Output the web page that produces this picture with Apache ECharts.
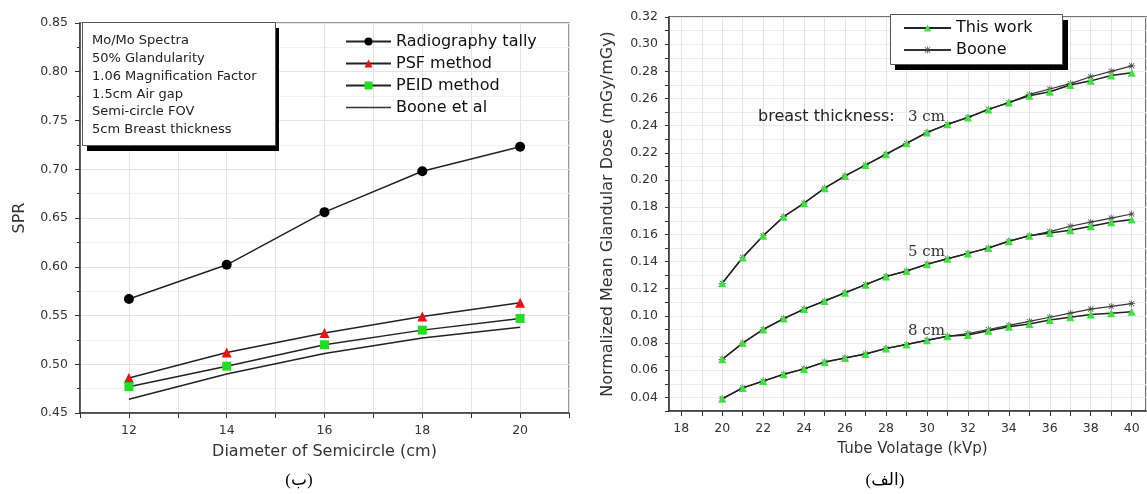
<!DOCTYPE html>
<html>
<head>
<meta charset="utf-8">
<script src="https://cdn.jsdelivr.net/npm/echarts@6/dist/echarts.min.js"></script>
<style>
html,body{margin:0;padding:0;background:#fff;}
#chart{width:1147px;height:494px;}
</style>
</head>
<body>
<div id="chart"></div>
<script>
// ---------- Left chart data ----------
const diameters = [12, 14, 16, 18, 20];
const radiographyTally = [0.567, 0.602, 0.656, 0.698, 0.723];
const psfMethod = [0.486, 0.512, 0.532, 0.549, 0.563];
const peidMethod = [0.477, 0.498, 0.520, 0.535, 0.547];
const booneEtAl = [0.464, 0.490, 0.511, 0.527, 0.538];
const infoLines = ['Mo/Mo Spectra', '50% Glandularity', '1.06 Magnification Factor', '1.5cm Air gap', 'Semi-circle FOV', '5cm Breast thickness'];

// ---------- Right chart data ----------
const kvp = [20, 21, 22, 23, 24, 25, 26, 27, 28, 29, 30, 31, 32, 33, 34, 35, 36, 37, 38, 39, 40];
const thisWork3 = [0.124, 0.143, 0.159, 0.173, 0.183, 0.194, 0.203, 0.211, 0.219, 0.227, 0.235, 0.241, 0.246, 0.252, 0.257, 0.262, 0.265, 0.270, 0.273, 0.277, 0.279];
const boone3    = [0.124, 0.143, 0.159, 0.173, 0.183, 0.194, 0.203, 0.211, 0.219, 0.227, 0.235, 0.241, 0.246, 0.252, 0.257, 0.263, 0.267, 0.271, 0.276, 0.280, 0.284];
const thisWork5 = [0.068, 0.080, 0.090, 0.098, 0.105, 0.111, 0.117, 0.123, 0.129, 0.133, 0.138, 0.142, 0.146, 0.150, 0.155, 0.159, 0.161, 0.163, 0.166, 0.169, 0.171];
const boone5    = [0.068, 0.080, 0.090, 0.098, 0.105, 0.111, 0.117, 0.123, 0.129, 0.133, 0.138, 0.142, 0.146, 0.150, 0.155, 0.159, 0.162, 0.166, 0.169, 0.172, 0.175];
const thisWork8 = [0.039, 0.047, 0.052, 0.057, 0.061, 0.066, 0.069, 0.072, 0.076, 0.079, 0.082, 0.085, 0.086, 0.089, 0.092, 0.094, 0.097, 0.099, 0.101, 0.102, 0.103];
const boone8    = [0.039, 0.047, 0.052, 0.057, 0.061, 0.066, 0.069, 0.072, 0.076, 0.079, 0.082, 0.085, 0.087, 0.090, 0.093, 0.096, 0.099, 0.102, 0.105, 0.107, 0.109];

const pairs = (xs, ys) => xs.map((x, i) => [x, ys[i]]);

const FONT = 'DejaVu Sans, Verdana, sans-serif';
const SERIF = 'DejaVu Serif, Liberation Serif, serif';
const CAPTION = 'Liberation Serif, DejaVu Sans, serif';
const GREEN = '#3fe03f';
const ASTERISK = 'path://M4.5 0L5.5 0L5.5 10L4.5 10ZM0 4.5L10 4.5L10 5.5L0 5.5ZM1 1.7L1.7 1L9 8.3L8.3 9ZM8.3 1L9 1.7L1.7 9L1 8.3Z';
const LINE_ICON = 'path://M0 0L60 0L60 2L0 2Z';

const axisLabelStyle = {color: '#333', fontSize: 12.5, fontFamily: FONT};
const nameStyle = {fontSize: 16, color: '#333', fontFamily: FONT};
const splitStyle = {show: true, lineStyle: {color: '#e4e4e4', width: 1}};
const minorSplitStyle = {show: true, lineStyle: {color: '#f0f0f0', width: 1}};
const axisLineStyle = {show: true, lineStyle: {color: '#333', width: 1.5}};

const chart = echarts.init(document.getElementById('chart'), null, {renderer: 'canvas'});

const option = {
  backgroundColor: '#fff',
  animation: false,
  grid: [
    {left: 80, top: 23, width: 489, height: 390, show: true, borderColor: '#777', borderWidth: 1.5, backgroundColor: 'transparent'},
    {left: 669, top: 17, width: 477, height: 394, show: true, borderColor: '#444', borderWidth: 1.5, backgroundColor: 'transparent'}
  ],
  xAxis: [
    {
      gridIndex: 0, type: 'value', min: 11, max: 21, interval: 1,
      name: 'Diameter of Semicircle (cm)', nameLocation: 'middle', nameGap: 31,
      nameTextStyle: nameStyle,
      axisLine: axisLineStyle,
      axisTick: {show: true, length: 5, lineStyle: {color: '#333'}},
      axisLabel: Object.assign({margin: 11, formatter: v => (v % 2 === 0 ? String(v) : '')}, axisLabelStyle),
      splitLine: splitStyle
    },
    {
      gridIndex: 1, type: 'value', min: 17.4, max: 40.7, minInterval: 1, maxInterval: 1,
      name: 'Tube Volatage (kVp)', nameLocation: 'middle', nameGap: 31,
      nameTextStyle: Object.assign({}, nameStyle, {fontSize: 15, padding: [0, 0, 0, 10]}),
      axisLine: axisLineStyle,
      axisTick: {show: true, length: 5, lineStyle: {color: '#333'}},
      axisLabel: Object.assign({margin: 11, showMinLabel: false, showMaxLabel: false,
        formatter: v => (Math.abs(v - Math.round(v)) < 1e-6 && Math.round(v) % 2 === 0 ? String(Math.round(v)) : '')}, axisLabelStyle),
      splitLine: splitStyle
    }
  ],
  yAxis: [
    {
      gridIndex: 0, type: 'value', min: 0.45, max: 0.85, interval: 0.05,
      name: 'SPR', nameLocation: 'middle', nameGap: 52,
      nameTextStyle: nameStyle,
      axisLine: axisLineStyle,
      axisTick: {show: true, length: 5, lineStyle: {color: '#333'}},
      minorTick: {show: true, splitNumber: 2, length: 3, lineStyle: {color: '#333'}},
      axisLabel: Object.assign({margin: 12, formatter: v => v.toFixed(2)}, axisLabelStyle),
      splitLine: splitStyle,
      minorSplitLine: minorSplitStyle
    },
    {
      gridIndex: 1, type: 'value', min: 0.03, max: 0.32, interval: 0.01,
      name: 'Normalized Mean Glandular Dose (mGy/mGy)', nameLocation: 'middle', nameGap: 53,
      nameTextStyle: nameStyle,
      axisLine: axisLineStyle,
      axisTick: {show: true, length: 4, lineStyle: {color: '#333'}},
      axisLabel: Object.assign({margin: 11,
        formatter: v => (Math.round(v * 100) % 2 === 0 ? v.toFixed(2) : '')}, axisLabelStyle),
      splitLine: {show: true, lineStyle: {color: '#ececec', width: 1}}
    }
  ],
  legend: [
    {
      data: ['Radiography tally', 'PSF method', 'PEID method', {name: 'Boone et al', icon: LINE_ICON}],
      orient: 'vertical', left: 340, top: 28.5, itemWidth: 45, itemHeight: 10, itemGap: 6,
      textStyle: {fontSize: 16, color: '#111', fontFamily: FONT}, z: 10
    },
    {
      data: ['This work', 'Boone'],
      orient: 'vertical', left: 898, top: 15, itemWidth: 47, itemHeight: 9, itemGap: 6,
      textStyle: {fontSize: 16, color: '#111', fontFamily: FONT}, z: 10
    }
  ],
  graphic: [
    {type: 'rect', z: 3, shape: {x: 87, y: 28, width: 192, height: 123}, style: {fill: '#000'}},
    {type: 'rect', z: 4, shape: {x: 82.5, y: 22.5, width: 193, height: 123}, style: {fill: '#fff', stroke: '#555', lineWidth: 1}},
    {type: 'text', z: 5, x: 92, y: 31.5, style: {text: infoLines.join('\n'), fill: '#222', font: '13px ' + FONT, lineHeight: 17.9, verticalAlign: 'top'}},
    {type: 'rect', z: 3, shape: {x: 895, y: 20, width: 173, height: 50}, style: {fill: '#000'}},
    {type: 'rect', z: 4, shape: {x: 890.5, y: 14.5, width: 172, height: 50}, style: {fill: '#fff', stroke: '#555', lineWidth: 1}},
    {type: 'text', z: 5, x: 758, y: 117, style: {text: 'breast thickness:', fill: '#222', font: '16px ' + FONT, verticalAlign: 'middle'}},
    {type: 'text', z: 5, x: 908, y: 117, style: {text: '3 cm', fill: '#333', font: '15px ' + SERIF, verticalAlign: 'middle'}},
    {type: 'text', z: 5, x: 908, y: 252, style: {text: '5 cm', fill: '#333', font: '15px ' + SERIF, verticalAlign: 'middle'}},
    {type: 'text', z: 5, x: 908, y: 331, style: {text: '8 cm', fill: '#333', font: '15px ' + SERIF, verticalAlign: 'middle'}},
    {type: 'text', z: 5, x: 299, y: 481, style: {text: '(ب)', fill: '#000', font: '17px ' + CAPTION, align: 'center', verticalAlign: 'middle'}},
    {type: 'text', z: 5, x: 885, y: 481, style: {text: '(الف)', fill: '#000', font: '17px ' + CAPTION, align: 'center', verticalAlign: 'middle'}}
  ],
  series: [
    {name: 'Radiography tally', type: 'line', xAxisIndex: 0, yAxisIndex: 0, data: pairs(diameters, radiographyTally),
      symbol: 'circle', symbolSize: 10, lineStyle: {color: '#222', width: 1.5}, itemStyle: {color: '#000'}, z: 3},
    {name: 'PSF method', type: 'line', xAxisIndex: 0, yAxisIndex: 0, data: pairs(diameters, psfMethod),
      symbol: 'triangle', symbolSize: 10, lineStyle: {color: '#222', width: 1.5}, itemStyle: {color: '#ee1111'}, z: 3},
    {name: 'PEID method', type: 'line', xAxisIndex: 0, yAxisIndex: 0, data: pairs(diameters, peidMethod),
      symbol: 'rect', symbolSize: 9, lineStyle: {color: '#222', width: 1.5}, itemStyle: {color: '#22dd22'}, z: 3},
    {name: 'Boone et al', type: 'line', xAxisIndex: 0, yAxisIndex: 0, data: pairs(diameters, booneEtAl),
      symbol: 'none', lineStyle: {color: '#222', width: 1.5}, itemStyle: {color: '#333'}, z: 3},

    {name: 'Boone', type: 'line', xAxisIndex: 1, yAxisIndex: 1, data: pairs(kvp, boone3),
      symbol: ASTERISK, symbolSize: 7, lineStyle: {color: '#333', width: 1.2}, itemStyle: {color: '#444'}, z: 3},
    {name: 'Boone', type: 'line', xAxisIndex: 1, yAxisIndex: 1, data: pairs(kvp, boone5),
      symbol: ASTERISK, symbolSize: 7, lineStyle: {color: '#333', width: 1.2}, itemStyle: {color: '#444'}, z: 3},
    {name: 'Boone', type: 'line', xAxisIndex: 1, yAxisIndex: 1, data: pairs(kvp, boone8),
      symbol: ASTERISK, symbolSize: 7, lineStyle: {color: '#333', width: 1.2}, itemStyle: {color: '#444'}, z: 3},
    {name: 'This work', type: 'line', xAxisIndex: 1, yAxisIndex: 1, data: pairs(kvp, thisWork3),
      symbol: 'triangle', symbolSize: 8, lineStyle: {color: '#222', width: 1.5}, itemStyle: {color: GREEN}, z: 4},
    {name: 'This work', type: 'line', xAxisIndex: 1, yAxisIndex: 1, data: pairs(kvp, thisWork5),
      symbol: 'triangle', symbolSize: 8, lineStyle: {color: '#222', width: 1.5}, itemStyle: {color: GREEN}, z: 4},
    {name: 'This work', type: 'line', xAxisIndex: 1, yAxisIndex: 1, data: pairs(kvp, thisWork8),
      symbol: 'triangle', symbolSize: 8, lineStyle: {color: '#222', width: 1.5}, itemStyle: {color: GREEN}, z: 4}
  ]
};
chart.setOption(option);
</script>
</body>
</html>
